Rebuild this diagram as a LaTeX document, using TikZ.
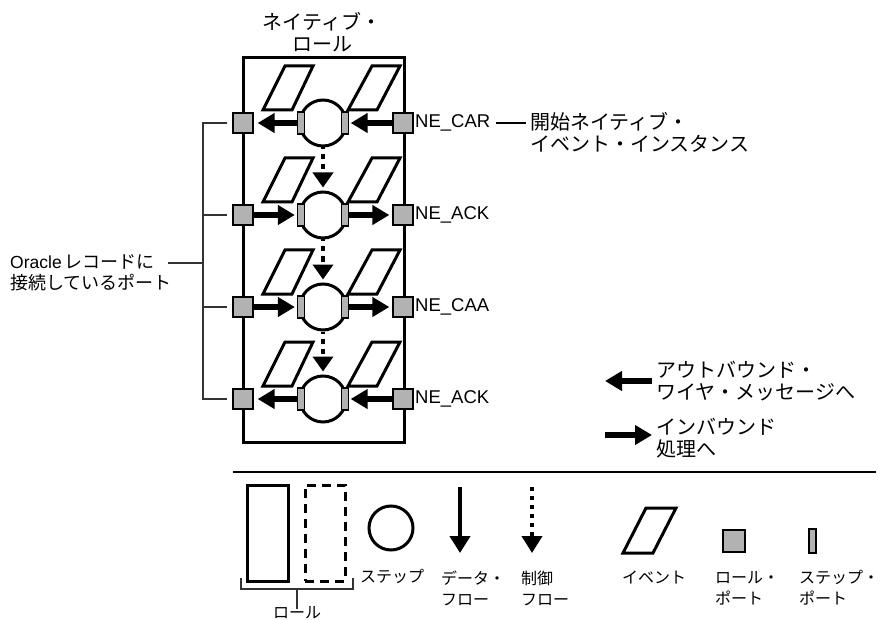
\documentclass[tikz,border=0pt]{standalone}
\usepackage{fontspec}
\setmainfont{Liberation Sans}
\newfontfamily\cjk{Noto Sans CJK JP}
\usetikzlibrary{arrows.meta}
\definecolor{portgray}{RGB}{178,178,178}
\begin{document}
\begin{tikzpicture}[x=1pt,y=-1pt,
  roleport/.style={draw=black, line width=1.3pt, fill=portgray, minimum size=20pt, inner sep=0pt},
  stepport/.style={draw=black, line width=1.3pt, fill=portgray, minimum width=7pt, minimum height=22pt, inner sep=0pt},
  stepc/.style={circle, draw, line width=3pt, minimum size=46pt, inner sep=0pt},
  evt/.style={draw, line width=3pt, line join=miter},
  dataflow/.style={line width=5.5pt, -{Triangle[length=17pt,width=19pt]}},
  ctrlflow/.style={line width=4pt, dash pattern=on 5pt off 5pt, dash phase=3pt, -{Triangle[length=15pt,width=20pt]}},
  brk/.style={line width=1.3pt, draw=black!80},
  bigtxt/.style={inner sep=0pt, font=\fontsize{20}{22}\selectfont\cjk},
  lattxt/.style={inner sep=0pt, font=\fontsize{18.5}{22}\selectfont},
  legtxt/.style={inner sep=0pt, font=\fontsize{16}{21}\selectfont\cjk, align=left},
]
\useasboundingbox (0,0) rectangle (880,620);

% role box
\draw[line width=3pt] (243,58) rectangle (404,442);
\node[bigtxt, align=center] (title) at (322,32) {ネイティブ・\\ロール};

% rows
\foreach \i/\y in {1/123,2/215,3/307,4/399}{
  \draw[evt] (263,\y-13) -- (292,\y-13) -- (313,\y-57) -- (285,\y-57) -- cycle;
  \draw[evt] (348,\y-13) -- (377,\y-13) -- (400,\y-57) -- (372,\y-57) -- cycle;
  \node[stepc] (s\i) at (323,\y) {};
  \node[roleport] (rl\i) at (243,\y) {};
  \node[roleport] (rr\i) at (403,\y) {};
  \node[stepport] (sl\i) at (301,\y) {};
  \node[stepport] (sr\i) at (345,\y) {};
}
% outbound rows
\foreach \i in {1,4}{
  \draw[dataflow, shorten >=4pt] (sl\i) -- (rl\i);
  \draw[dataflow, shorten >=1.5pt] (rr\i) -- (sr\i);
}
% inbound rows
\foreach \i in {2,3}{
  \draw[dataflow, shorten >=2pt] (rl\i) -- (sl\i);
  \draw[dataflow, shorten >=3pt] (sr\i) -- (rr\i);
}
% control flow
\draw[ctrlflow, shorten >=3pt] (s1) -- (s2);
\draw[ctrlflow, shorten >=3pt] (s2) -- (s3);
\draw[ctrlflow, shorten >=3pt] (s3) -- (s4);

% port labels
\node[lattxt, anchor=west] (l1) at (415,123) {NE\_CAR};
\node[lattxt, anchor=west] (l2) at (415,215) {NE\_ACK};
\node[lattxt, anchor=west] (l3) at (415,307) {NE\_CAA};
\node[lattxt, anchor=west] (l4) at (415,399) {NE\_ACK};
\node[bigtxt, align=left, anchor=north west] (start) at (530,112) {開始ネイティブ・\\イベント・インスタンス};
\draw[line width=1.3pt] ([xshift=6pt]l1.east) -- ([xshift=-4pt]start.west |- l1.east);

% bracket for oracle ports
\coordinate (bt) at (203,123);
\coordinate (bb) at (203,399);
\coordinate (bm) at (203,263);
\coordinate (bmend) at (168,263);
\draw[brk] ([xshift=-5pt]rl1.west) -- (bt) -- (bb) -- ([xshift=-5pt]rl4.west);
\draw[brk] (bt |- rl2) -- ([xshift=-5pt]rl2.west);
\draw[brk] (bt |- rl3) -- ([xshift=-5pt]rl3.west);
\draw[brk] (bm) -- (bmend);
\node[inner sep=0pt, anchor=west, align=left, font=\fontsize{18}{21}\selectfont] (oracle) at (10,273)
  {\fontsize{17.5}{21}\selectfont Oracle\,{\cjk\fontsize{18}{21}\selectfont レコードに}\\{\cjk 接続しているポート}};

% legend arrows
\coordinate (oa1) at (652,381);
\coordinate (oa2) at (605,381);
\draw[dataflow] (oa1) -- (oa2);
\node[bigtxt, align=left, anchor=west] (outl) at (656,381) {アウトバウンド・\\ワイヤ・メッセージへ};
\coordinate (ia1) at (605,435);
\coordinate (ia2) at (652,435);
\draw[dataflow] (ia1) -- (ia2);
\node[bigtxt, align=left, anchor=west] (inl) at (656,438) {インバウンド\\処理へ};

% separator
\coordinate (sep1) at (233,472);
\coordinate (sep2) at (876,472);
\draw[line width=1.3pt] (sep1) -- (sep2);

% legend
\node[draw, line width=3pt, minimum width=41pt, minimum height=96pt, inner sep=0pt] (lr1) at (267.5,533) {};
\node[draw, line width=3pt, dash pattern=on 9pt off 6pt, minimum width=40pt, minimum height=96pt, inner sep=0pt] (lr2) at (325,533) {};
\coordinate (lb1) at (241,578);
\coordinate (lb2) at (353,578);
\coordinate (lbm) at (297,589);
\draw[brk] (lb1) -- (lb1 |- lbm) -- (lb2 |- lbm) -- (lb2);
\node[legtxt] (rolel) at (297,613) {ロール};
\draw[brk] (lbm) -- ([yshift=-2pt]rolel.north);

\node[circle, draw, line width=3pt, minimum size=44pt, inner sep=0pt] (lc) at (391,528) {};
\node[legtxt] (lcl) at (392,576) {ステップ};

\coordinate (ld1) at (460,487);
\coordinate (ld2) at (460,553);
\draw[line width=4.5pt, -{Triangle[length=17pt,width=20pt]}] (ld1) -- (ld2);
\node[legtxt, anchor=west] (ldl) at (441,588) {データ・\\フロー};

\coordinate (lf1) at (532,487);
\coordinate (lf2) at (532,553);
\draw[line width=4pt, dash pattern=on 4pt off 5pt, -{Triangle[length=17pt,width=20pt]}] (lf1) -- (lf2);
\node[legtxt, anchor=west] (lfl) at (521,588) {制御\\フロー};

\draw[evt] (623,553) -- (653,553) -- (676,508) -- (646,508) -- cycle;
\node[legtxt] (lel) at (654,577) {イベント};

\node[draw=black, line width=1.3pt, fill=portgray, minimum size=22pt, inner sep=0pt] (lrp) at (734,541) {};
\node[legtxt, anchor=west] (lrpl) at (715,588) {ロール・\\ポート};

\node[draw=black, line width=1.3pt, fill=portgray, minimum width=7pt, minimum height=24pt, inner sep=0pt] (lsp) at (812.5,541) {};
\node[legtxt, anchor=west] (lspl) at (799,588) {ステップ・\\ポート};
\end{tikzpicture}
\end{document}
